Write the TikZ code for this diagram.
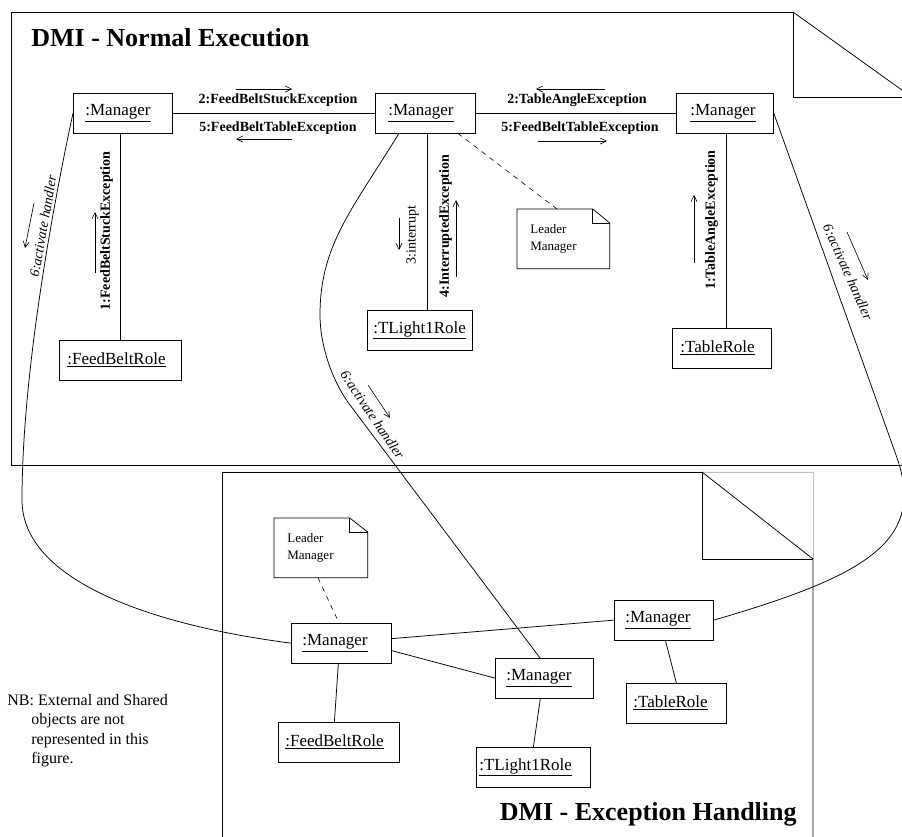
\documentclass[tikz,border=0pt]{standalone}
\usepackage{fontspec}
\setmainfont{Liberation Serif}
\usetikzlibrary{arrows.meta}
\newcommand\myobjfont{\fontsize{17}{20}\selectfont}
\newcommand\mymsgfont{\fontsize{14}{16}\selectfont\bfseries}
\newcommand\myplainfont{\fontsize{14}{16}\selectfont}
\newcommand\myitfont{\fontsize{14}{16}\selectfont\itshape}
\newcommand\mynotefont{\fontsize{13}{17}\selectfont}
\newcommand\mytitlefont{\fontsize{26}{30}\selectfont\bfseries}
\begin{document}
\begin{tikzpicture}[x=1pt,y=-1pt,line width=0.75pt,
  obj/.style 2 args={draw, anchor=north west, minimum height=39.5pt, inner ysep=0pt,
      inner xsep=#2pt, text width=#1pt, align=left, font=\myobjfont},
  notebox/.style 2 args={anchor=north west, minimum height=59pt, inner ysep=0pt,
      inner xsep=13pt, text width=#1pt, minimum width=#2pt, align=left, font=\mynotefont},
  msg/.style={font=\mymsgfont, inner sep=0pt},
  msgplain/.style={font=\myplainfont, inner sep=0pt},
  msgit/.style={font=\myitfont, inner sep=0pt},
  flow/.style={-{Straight Barb[length=6pt,width=6pt]}, line width=0.6pt},
  title/.style={font=\mytitlefont, inner sep=0pt}]
\useasboundingbox (0,0) rectangle (902,836);
\clip (0,0) rectangle (902,836);

% ---------- frames ----------
\draw (793,12) -- (11,12) -- (11,465) -- (915,465);
\draw (793,12) -- (915,99.4);
\draw (793,12) -- (793,97.5) -- (915,97.5);
\draw[black!25, line width=0.5pt] (702,472) -- (813,472) -- (813,559);
\draw (702,472) -- (222,472) -- (222,840);
\draw (702,472) -- (813,559) -- (813,840);
\draw (702,472) -- (702,559) -- (813,559);

\node[title, anchor=base west] (t1) at (31,46) {DMI - Normal Execution};
\node[title, anchor=base east] (t2) at (797,820) {DMI - Exception Handling};

% ---------- upper objects ----------
\node[obj={75}{12}] (m1) at (73,93) {\underline{:Manager}};
\node[obj={74}{13}] (m2) at (375,93) {\underline{:Manager}};
\node[obj={69}{14}] (m3) at (676,93) {\underline{:Manager}};
\node[obj={106}{8}] (fb) at (59,340) {\underline{:FeedBeltRole}};
\node[obj={93}{6}] (tl) at (367,310) {\underline{:TLight1Role}};
\node[obj={83}{8}] (tr) at (672,328) {\underline{:TableRole}};

\node[notebox={66}{92}] (n1) at (517,209) {Leader\\Manager};
\draw (n1.north west) -- ([xshift=-17pt]n1.north east) -- ([yshift=-14pt]n1.north east)
      -- (n1.south east) -- (n1.south west) -- cycle;
\draw ([xshift=-17pt]n1.north east) |- ([yshift=-14pt]n1.north east);

% ---------- lower objects ----------
\node[obj={78}{11}] (lm1) at (291,623) {\underline{:Manager}};
\node[obj={76}{11}] (lm2) at (495,658) {\underline{:Manager}};
\node[obj={77}{11}] (lm3) at (614,600) {\underline{:Manager}};
\node[obj={107}{7}] (lfb) at (278,722) {\underline{:FeedBeltRole}};
\node[obj={108}{3}] (ltl) at (476,747) {\underline{:TLight1Role}};
\node[obj={86}{7}] (ltr) at (626,683) {\underline{:TableRole}};

\node[notebox={67}{93}] (n2) at (274,518) {Leader\\Manager};
\draw (n2.north west) -- ([xshift=-18pt]n2.north east) -- ([yshift=-14pt]n2.north east)
      -- (n2.south east) -- (n2.south west) -- cycle;
\draw ([xshift=-18pt]n2.north east) |- ([yshift=-14pt]n2.north east);

% ---------- upper links ----------
\draw (m1.east) -- (m2.west);
\draw (m2.east) -- (m3.west);
\draw (fb.north |- m1.south) -- (fb.north);
\draw ([xshift=2pt]m2.south) -- ([xshift=2pt]m2.south |- tl.north);
\draw ([xshift=1.5pt]m3.south) -- ([xshift=1.5pt]m3.south |- tr.north);
\draw[dashed, line width=0.6pt, dash pattern=on 5pt off 5pt] ([xshift=-18pt]m2.south east) -- ([xshift=40pt]n1.north west);

% ---------- lower links ----------
\draw[dashed, line width=0.6pt, dash pattern=on 5pt off 5pt] ([xshift=44pt]n2.south west) -- ([xshift=48pt]lm1.north west);
\draw ([xshift=-3pt]lm1.south) -- ([xshift=-4.5pt]lfb.north);
\draw ([yshift=4.5pt]lm1.east) -- (lm3.west);
\draw ([yshift=-7.5pt]lm1.east) -- (lm2.west);
\draw ([xshift=-4pt]lm2.south) -- (ltl.north);
\draw ([xshift=1.5pt]lm3.south) -- (ltr.north);

% ---------- activate handler links ----------
\draw (m1.west) .. controls (50,220) and (22,380) .. (22,500)
      .. controls (22,580) and (150,625) .. (lm1.west);
\draw ([xshift=24pt]m2.south west) .. controls (352,210) and (320,245) .. (320,315)
      .. controls (320,345) and (332,381) .. (350,405) -- ([xshift=45pt]lm2.north west);
\draw (m3.east) -- (896,455) .. controls (927,540) and (869,575) .. (lm3.east);

% ---------- message labels ----------
\node[msg] (l1) at (278,100) {2:FeedBeltStuckException};
\node[msg] (l2) at (278,128) {5:FeedBeltTableException};
\node[msg] (l3) at (577,100) {2:TableAngleException};
\node[msg] (l4) at (580,128) {5:FeedBeltTableException};
\node[msg, rotate=90] (l5) at (106.5,231) {1:FeedBeltStuckException};
\node[msgplain, rotate=90] (l6) at (412.5,235) {3:interrupt};
\node[msg, rotate=90] (l7) at (445.5,226) {4:InterruptedException};
\node[msg, rotate=90] (l8) at (711.5,220) {1:TableAngleException};
\node[msgit, rotate=80] (l9) at (43,226) {6:activate handler};
\node[msgit, rotate=-56] (l10) at (372.5,415) {6:activate handler};
\node[msgit, rotate=-66] (l11) at (848,272) {6:activate handler};

\draw[flow] (236,89) -- (292,89);
\draw[flow] (292,139) -- (236,139);
\draw[flow] (605,89) -- (536,89);
\draw[flow] (538,141) -- (607,141);
\draw[flow] (95,273) -- (95,212);
\draw[flow] (399,218) -- (399,250);
\draw[flow] (456,277) -- (456,200);
\draw[flow] (694,263) -- (694,195);
\draw[flow] (34,203) -- (25,248);
\draw[flow] (368,385) -- (390,418);
\draw[flow] (847,232) -- (868,280);

% ---------- remark ----------
\node[anchor=base west, inner sep=0pt, align=left, font=\fontsize{16}{19.5}\selectfont] (nb) at (7,763.5)
  {NB: External and Shared\\\hspace*{24pt}objects are not\\\hspace*{24pt}represented in this\\\hspace*{24pt}figure.};
\end{tikzpicture}
\end{document}
